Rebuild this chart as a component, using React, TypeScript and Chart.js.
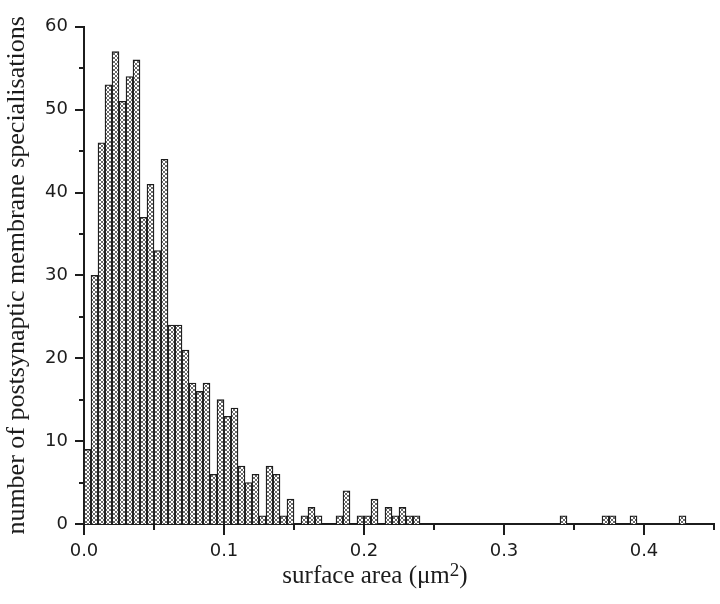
import React, { useEffect, useRef } from 'react';
import { Chart, registerables } from 'chart.js';

Chart.register(...registerables);

// Histogram bin width (µm²)
const BIN_WIDTH = 0.005;

// Counts for consecutive bins starting at 0.000 (0.000–0.235)
const MAIN_COUNTS = [
  9, 30, 46, 53, 57, 51, 54, 56, 37, 41,
  33, 44, 24, 24, 21, 17, 16, 17, 6, 15,
  13, 14, 7, 5, 6, 1, 7, 6, 1, 3,
  0, 1, 2, 1, 0, 0, 1, 4, 0, 1,
  1, 3, 0, 2, 1, 2, 1, 1,
];

// Sparse tail bins (bin start, µm²) and their counts
const TAIL_BIN_STARTS = [0.34, 0.37, 0.375, 0.39, 0.425];
const TAIL_COUNTS = [1, 1, 1, 1, 1];

// Axis ticks
const X_LABEL_VALUES = [0, 0.1, 0.2, 0.3, 0.4];
const X_TICK_VALUES = [0, 0.05, 0.1, 0.15, 0.2, 0.25, 0.3, 0.35, 0.4, 0.45];
const Y_LABEL_VALUES = [0, 10, 20, 30, 40, 50, 60];
const Y_TICK_VALUES = [0, 5, 10, 15, 20, 25, 30, 35, 40, 45, 50, 55, 60];

const X_TITLE_MAIN = 'surface area (μm';
const X_TITLE_SUP = '2';
const X_TITLE_END = ')';
const Y_TITLE = 'number of postsynaptic membrane specialisations';

const INK = '#1c1c1c';

function makePattern(): CanvasPattern | string {
  const tile = document.createElement('canvas');
  tile.width = 4;
  tile.height = 4;
  const c = tile.getContext('2d');
  if (!c) return '#bbb';
  c.fillStyle = '#ffffff';
  c.fillRect(0, 0, 4, 4);
  c.strokeStyle = '#6a6a6a';
  c.lineWidth = 1;
  c.beginPath();
  c.moveTo(-1, -1);
  c.lineTo(5, 5);
  c.moveTo(5, -1);
  c.lineTo(-1, 5);
  c.stroke();
  const p = c.createPattern(tile, 'repeat');
  return p || '#bbb';
}

const axisDecor = {
  id: 'axisDecor',
  afterDraw(chart: any) {
    const { ctx } = chart;
    const xs = chart.scales.x;
    const ys = chart.scales.y;
    ctx.save();
    ctx.strokeStyle = INK;
    ctx.lineWidth = 2;
    const yBase = ys.getPixelForValue(0);
    X_TICK_VALUES.forEach((v) => {
      const px = Math.round(xs.getPixelForValue(v));
      const major = X_LABEL_VALUES.some((m) => Math.abs(m - v) < 1e-9);
      const len = major ? 11 : 6;
      ctx.beginPath();
      ctx.moveTo(px, yBase);
      ctx.lineTo(px, yBase + len);
      ctx.stroke();
    });
    const xBase = xs.getPixelForValue(0);
    Y_TICK_VALUES.forEach((v) => {
      const py = Math.round(ys.getPixelForValue(v));
      const major = Y_LABEL_VALUES.includes(v);
      const len = major ? 9 : 5;
      ctx.beginPath();
      ctx.moveTo(xBase, py);
      ctx.lineTo(xBase - len, py);
      ctx.stroke();
    });

    // x-axis title with superscript
    ctx.fillStyle = INK;
    ctx.textBaseline = 'alphabetic';
    const mainFont = '25px "Liberation Serif", "Times New Roman", serif';
    const supFont = '19px "Liberation Serif", "Times New Roman", serif';
    ctx.font = mainFont;
    const w1 = ctx.measureText(X_TITLE_MAIN).width;
    const w3 = ctx.measureText(X_TITLE_END).width;
    ctx.font = supFont;
    const w2 = ctx.measureText(X_TITLE_SUP).width;
    const total = w1 + w2 + w3;
    const cx = 375;
    const baseY = 583;
    let x0 = cx - total / 2;
    ctx.textAlign = 'left';
    ctx.font = mainFont;
    ctx.fillText(X_TITLE_MAIN, x0, baseY);
    x0 += w1;
    ctx.font = supFont;
    ctx.fillText(X_TITLE_SUP, x0, baseY - 7);
    x0 += w2;
    ctx.font = mainFont;
    ctx.fillText(X_TITLE_END, x0, baseY);
    ctx.restore();
  },
};

export default function App() {
  const ref = useRef<HTMLCanvasElement | null>(null);

  useEffect(() => {
    if (!ref.current) return;
    const pattern = makePattern();

    const points: { x: number; y: number }[] = [];
    MAIN_COUNTS.forEach((c, i) => {
      if (c > 0) points.push({ x: BIN_WIDTH * i + BIN_WIDTH / 2, y: c });
    });
    TAIL_BIN_STARTS.forEach((s, i) => {
      if (TAIL_COUNTS[i] > 0) points.push({ x: s + BIN_WIDTH / 2, y: TAIL_COUNTS[i] });
    });

    const tickFont = { family: '"DejaVu Sans", "Liberation Sans", Arial, sans-serif', size: 18 };

    const chart = new Chart(ref.current, {
      type: 'bar',
      data: {
        datasets: [
          {
            data: points as any,
            backgroundColor: pattern as any,
            borderColor: INK,
            borderWidth: 1.3,
            barPercentage: 1,
            categoryPercentage: 1,
          },
        ],
      },
      options: {
        animation: false,
        responsive: false,
        devicePixelRatio: 1,
        layout: { padding: { top: 12, right: 6, left: 0, bottom: 0 }, autoPadding: false } as any,
        plugins: {
          legend: { display: false },
          tooltip: { enabled: false },
        },
        scales: {
          x: {
            type: 'linear',
            min: 0,
            max: 0.45,
            offset: false,
            grid: { display: false, drawTicks: false, offset: false },
            border: { display: true, color: INK, width: 2 },
            ticks: {
              color: INK,
              font: tickFont,
              padding: 17,
              maxRotation: 0,
              autoSkip: false,
              callback: (v: any) => Number(v).toFixed(1),
            },
            afterBuildTicks: (scale: any) => {
              scale.ticks = X_LABEL_VALUES.map((v) => ({ value: v }));
            },
            afterFit: (scale: any) => {
              scale.height = 80;
            },
          },
          y: {
            type: 'linear',
            min: 0,
            max: 60,
            grid: { display: false, drawTicks: false },
            border: { display: true, color: INK, width: 2 },
            ticks: {
              color: INK,
              font: tickFont,
              padding: 16,
              autoSkip: false,
            },
            afterBuildTicks: (scale: any) => {
              scale.ticks = Y_LABEL_VALUES.map((v) => ({ value: v }));
            },
            afterFit: (scale: any) => {
              scale.width = 84;
            },
            title: {
              display: true,
              text: Y_TITLE,
              color: INK,
              font: { family: '"Liberation Serif", "Times New Roman", serif', size: 26 },
              padding: { top: 2, bottom: 0 },
            },
          },
        },
      },
      plugins: [axisDecor],
    });

    return () => chart.destroy();
  }, []);

  return (
    <div style={{ position: 'absolute', left: 0, top: 0, width: 720, height: 604, background: '#fff' }}>
      <canvas ref={ref} width={720} height={604} style={{ display: 'block' }} />
    </div>
  );
}
